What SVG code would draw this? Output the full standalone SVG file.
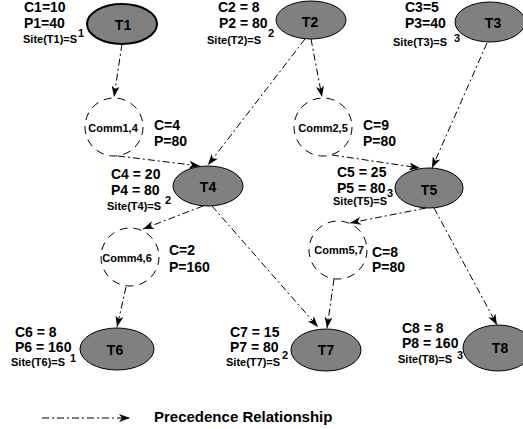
<svg xmlns="http://www.w3.org/2000/svg" width="523" height="429" viewBox="0 0 523 429">
<defs>
<marker id="ah" viewBox="0 0 11 8" refX="11" refY="4" markerWidth="11" markerHeight="8" markerUnits="userSpaceOnUse" orient="auto">
<path d="M0,0 L11,4 L0,8 L3,4 z" fill="#000"/>
</marker>
<style>
text{font-family:"Liberation Sans",Arial,sans-serif;font-weight:bold;fill:#000}
.task ellipse{fill:#808080;stroke:#000;stroke-width:1}
.tl{font-size:14px;text-anchor:middle}
.lab{font-size:14px}
.site{font-size:11px}
.sup{font-size:11px}
.comm circle{fill:none;stroke:#000;stroke-width:1;stroke-dasharray:8 6}
.ct{font-size:11px;text-anchor:middle}
.edge{fill:none;stroke:#000;stroke-width:1;stroke-dasharray:7 3 2 3;marker-end:url(#ah)}
</style>
</defs>
<rect width="523" height="429" fill="#fff"/>
<g id="connectors">
<line class="edge" x1="122" y1="44" x2="114" y2="97"/>
<line class="edge" x1="305" y1="39" x2="208" y2="165"/>
<line class="edge" x1="311" y1="39" x2="322" y2="97"/>
<line class="edge" x1="487" y1="43" x2="432" y2="168"/>
<line class="edge" x1="118" y1="156" x2="200" y2="166"/>
<line class="edge" x1="332" y1="155" x2="420" y2="168"/>
<line class="edge" x1="203" y1="206" x2="143" y2="229"/>
<line class="edge" x1="212" y1="206" x2="318" y2="327"/>
<line class="edge" x1="426" y1="208" x2="350" y2="223"/>
<line class="edge" x1="434" y1="208" x2="497" y2="325"/>
<line class="edge" x1="126" y1="287" x2="117" y2="327"/>
<line class="edge" x1="334" y1="279" x2="327" y2="328"/>
</g>
<g id="T1" class="task">
<ellipse cx="122" cy="24" rx="35" ry="20" style="stroke-width:2"/>
<text class="tl" x="123" y="30">T1</text>
<text class="lab" x="24" y="12">C1=10</text>
<text class="lab" x="24" y="28">P1=40</text>
<text class="site" x="23" y="43">Site(T1)=S</text>
<text class="sup" x="78" y="37">1</text>
</g>
<g id="T2" class="task">
<ellipse cx="311" cy="20" rx="35" ry="19"/>
<text class="tl" x="310" y="27">T2</text>
<text class="lab" x="218" y="12">C2 = 8</text>
<text class="lab" x="219" y="28">P2 = 80</text>
<text class="site" x="207" y="44">Site(T2)=S</text>
<text class="sup" x="268" y="37">2</text>
</g>
<g id="T3" class="task">
<ellipse cx="490" cy="22" rx="35" ry="20"/>
<text class="tl" x="493" y="28">T3</text>
<text class="lab" x="405" y="12">C3=5</text>
<text class="lab" x="405" y="28">P3=40</text>
<text class="site" x="393" y="46">Site(T3)=S</text>
<text class="sup" x="454" y="42">3</text>
</g>
<g id="Comm14" class="comm">
<circle cx="114" cy="127" r="29"/>
<text class="ct" x="113" y="132">Comm1,4</text>
<text class="lab" x="154" y="130">C=4</text>
<text class="lab" x="154" y="146">P=80</text>
</g>
<g id="Comm25" class="comm">
<circle cx="323" cy="127" r="29"/>
<text class="ct" x="323" y="132">Comm2,5</text>
<text class="lab" x="363" y="130">C=9</text>
<text class="lab" x="363" y="146">P=80</text>
</g>
<g id="T4" class="task">
<ellipse cx="208" cy="186" rx="35" ry="20"/>
<text class="tl" x="208" y="192">T4</text>
<text class="lab" x="111" y="179">C4 = 20</text>
<text class="lab" x="111" y="195">P4 = 80</text>
<text class="site" x="107" y="210">Site(T4)=S</text>
<text class="sup" x="165" y="204">2</text>
</g>
<g id="T5" class="task">
<ellipse cx="429" cy="188" rx="34" ry="20"/>
<text class="tl" x="429" y="195">T5</text>
<text class="lab" x="337" y="177">C5 = 25</text>
<text class="lab" x="337" y="193">P5 = 80</text>
<text class="site" x="333" y="205">Site(T5)=S</text>
<text class="sup" x="387" y="197">3</text>
</g>
<g id="Comm46" class="comm">
<circle cx="130" cy="257" r="29"/>
<text class="ct" x="127" y="262">Comm4,6</text>
<text class="lab" x="169" y="255">C=2</text>
<text class="lab" x="169" y="272">P=160</text>
</g>
<g id="Comm57" class="comm">
<circle cx="338" cy="250" r="29"/>
<text class="ct" x="339" y="254">Comm5,7</text>
<text class="lab" x="372" y="257">C=8</text>
<text class="lab" x="372" y="272">P=80</text>
</g>
<g id="T6" class="task">
<ellipse cx="117" cy="349" rx="37" ry="21"/>
<text class="tl" x="115" y="355">T6</text>
<text class="lab" x="15" y="337">C6 = 8</text>
<text class="lab" x="15" y="352">P6 = 160</text>
<text class="site" x="11" y="366">Site(T6)=S</text>
<text class="sup" x="70" y="362">1</text>
</g>
<g id="T7" class="task">
<ellipse cx="326" cy="350" rx="35" ry="21"/>
<text class="tl" x="326" y="355">T7</text>
<text class="lab" x="230" y="337">C7 = 15</text>
<text class="lab" x="230" y="352">P7 = 80</text>
<text class="site" x="226" y="366">Site(T7)=S</text>
<text class="sup" x="282" y="359">2</text>
</g>
<g id="T8" class="task">
<ellipse cx="498" cy="348" rx="35" ry="23"/>
<text class="tl" x="500" y="353">T8</text>
<text class="lab" x="402" y="333">C8 = 8</text>
<text class="lab" x="402" y="348">P8 = 160</text>
<text class="site" x="398" y="363">Site(T8)=S</text>
<text class="sup" x="457" y="359">3</text>
</g>
<g id="legend">
<line class="edge" x1="42" y1="418" x2="130" y2="418"/>
<text x="154" y="422" style="font-size:15px">Precedence Relationship</text>
</g>
</svg>
